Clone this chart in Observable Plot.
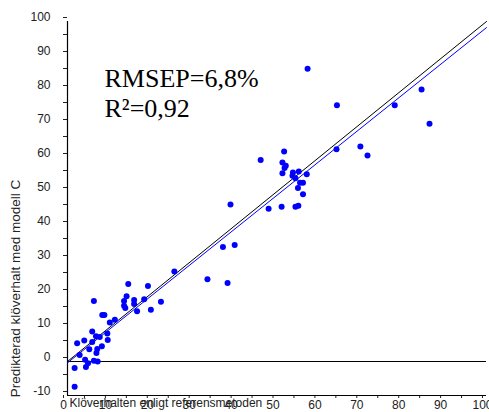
<!DOCTYPE html>
<html>
<head>
<meta charset="utf-8">
<script src="https://cdn.jsdelivr.net/npm/d3@7"></script>
<script src="https://cdn.jsdelivr.net/npm/@observablehq/plot@0.6"></script>
<style>
  html, body { margin: 0; padding: 0; background: #fff; }
  #chart svg { display: block; }
</style>
</head>
<body>
<div id="chart"></div>
<script>
// Clover content: reference method (x) vs model C prediction (y), percent
const refValues = [
  1.7, 1.7, 2.3, 2.9, 4.0, 4.2, 4.4, 4.9, 5.2, 5.9, 5.9, 6.3, 6.3, 6.8, 6.9, 7.1, 7.2, 7.7,
  8.2, 8.3, 8.8, 9.5, 9.6, 10.1, 11.3, 13.5, 13.5, 13.8, 14.1, 14.5, 15.9, 15.9, 16.6,
  18.3, 19.2, 19.9, 22.3, 25.5, 33.4, 38.2, 37.1, 39.9, 38.9, 46.1, 48.0,
  51.1, 51.3, 51.3, 51.7, 51.8, 52.1, 53.7, 53.8, 54.4, 54.4, 55.0, 55.1, 55.2, 55.5,
  56.2, 56.2, 57.1, 57.3, 64.2, 64.3, 69.9, 71.6, 78.1, 84.5, 86.4
];
const predValues = [
  -1.9, -7.4, 5.4, 1.9, 6.2, 0.5, -1.6, -0.5, 3.6, 8.8, 5.7, 0.2, 17.8, 7.4, 2.5, 3.7, 0.0, 7.2,
  4.5, 13.7, 13.7, 8.2, 6.3, 11.5, 12.3, 16.4, 17.8, 15.7, 19.2, 22.8, 18.1, 16.9, 14.8,
  18.3, 22.2, 15.2, 17.6, 26.5, 24.2, 23.1, 33.7, 34.3, 46.2, 59.3, 44.9,
  45.5, 58.5, 55.4, 61.8, 56.9, 57.6, 54.6, 55.6, 53.9, 45.5, 51.0, 45.8, 55.9, 52.6,
  52.6, 49.2, 55.1, 86.1, 62.4, 75.4, 63.2, 60.6, 75.4, 80.0, 69.9
];

// Fitted regression line and the 1:1 line over the axis span
const fitIntercept = -0.4;
const fitSlope = 0.986;
const lineSpan = [0, 100];

const xTicks = d3.range(0, 101, 5);
const yTicks = d3.range(-10, 101, 5);

const xTitle = "Klöverhalten enligt referensmetoden";
const yTitle = "Predikterad klöverhalt med modell C";
const statsText = "RMSEP=6,8%\nR²=0,92";

const points = refValues.map((x, i) => ({x, y: predValues[i]}));
const identity = lineSpan.map(x => ({x, y: x}));
const fit = lineSpan.map(x => ({x, y: fitIntercept + fitSlope * x}));

const labelFmt = d => d % 10 === 0 ? String(d) : "";

const chart = Plot.plot({
  width: 489,
  height: 412,
  marginLeft: 67,
  marginRight: 3,
  marginTop: 21,
  marginBottom: 17,
  style: {fontFamily: "'Liberation Sans', Arial, sans-serif", background: "#fff"},
  x: {domain: [0, 100]},
  y: {domain: [-10, 100]},
  marks: [
    Plot.axisX({ticks: xTicks, tickFormat: labelFmt, tickSize: 3, tickPadding: 2, fontSize: 12, dx: -4, label: null, color: "#222"}),
    Plot.axisY({ticks: yTicks, tickFormat: labelFmt, tickSize: 4, tickPadding: 13, fontSize: 12, dy: -4, label: null, color: "#222"}),
    Plot.ruleX([0], {y1: -10, y2: 100, stroke: "#000", strokeWidth: 1.2}),
    Plot.ruleY([-10], {x1: 0, x2: 100, stroke: "#000", strokeWidth: 1.2}),
    Plot.ruleY([0], {x1: 0, x2: 100, stroke: "#000", strokeWidth: 1.2}),
    Plot.line(fit, {x: "x", y: "y", stroke: "#0000ff", strokeWidth: 1}),
    Plot.line(identity, {x: "x", y: "y", stroke: "#000", strokeWidth: 1}),
    Plot.dot(points, {x: "x", y: "y", r: 3, fill: "#0000ff", stroke: "none"}),
    Plot.text([statsText], {
      frameAnchor: "top-left", textAnchor: "start", lineAnchor: "top",
      dx: 37, dy: 44, lineHeight: 1.154,
      fontFamily: "'Liberation Serif', 'Times New Roman', serif", fontSize: 26, fill: "#000"
    }),
    Plot.text([xTitle], {
      frameAnchor: "bottom-left", textAnchor: "start", lineAnchor: "middle",
      dx: 2, dy: 8, fontSize: 12, fill: "#222"
    }),
    Plot.text([yTitle], {
      frameAnchor: "left", textAnchor: "middle", lineAnchor: "middle", rotate: -90,
      dx: -52, dy: 80, fontSize: 13.5, fill: "#222"
    })
  ]
});

document.getElementById("chart").append(chart);
</script>
</body>
</html>
